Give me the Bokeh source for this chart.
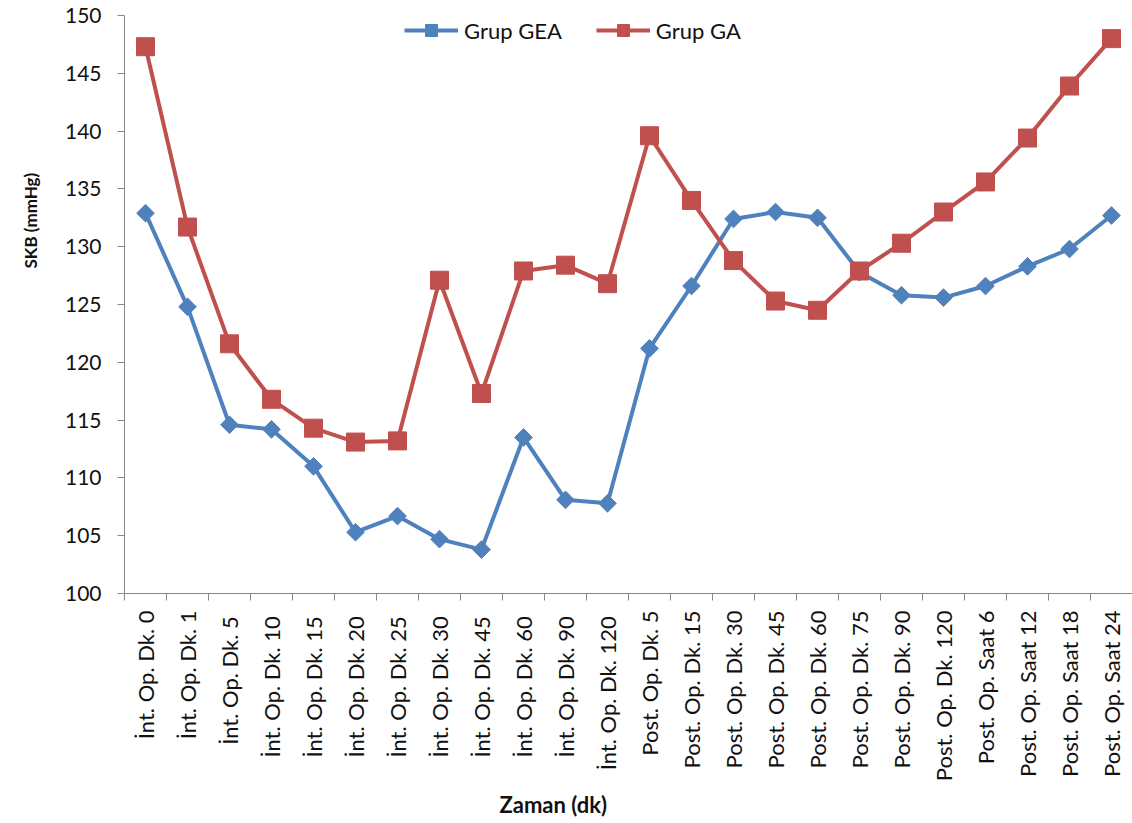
import math

from bokeh.embed import file_html
from bokeh.models import FixedTicker, Legend, LegendItem, Title
from bokeh.plotting import figure
from bokeh.resources import INLINE

# Time points (intra-operative minutes, post-operative minutes / hours)
time_labels = [
    "İnt. Op. Dk. 0", "İnt. Op. Dk. 1", "İnt. Op. Dk.  5", "İnt. Op. Dk.  10",
    "İnt. Op. Dk.  15", "İnt. Op. Dk.  20", "İnt. Op. Dk.  25", "İnt. Op. Dk.  30",
    "İnt. Op. Dk.  45", "İnt. Op. Dk.  60", "İnt. Op. Dk.  90", "İnt. Op. Dk.  120",
    "Post. Op. Dk. 5", "Post. Op. Dk. 15", "Post. Op. Dk. 30", "Post. Op. Dk. 45",
    "Post. Op. Dk. 60", "Post. Op. Dk. 75", "Post. Op. Dk. 90", "Post. Op. Dk. 120",
    "Post. Op. Saat 6", "Post. Op. Saat 12", "Post. Op. Saat 18", "Post. Op. Saat 24",
]

# Systolic blood pressure (mmHg) per group
grup_gea = [132.9, 124.8, 114.6, 114.2, 111.0, 105.3, 106.7, 104.7, 103.8, 113.5,
            108.1, 107.8, 121.2, 126.6, 132.4, 133.0, 132.5, 127.8, 125.8, 125.6,
            126.6, 128.3, 129.8, 132.7]
grup_ga = [147.3, 131.7, 121.6, 116.8, 114.3, 113.1, 113.2, 127.1, 117.3, 127.9,
           128.4, 126.8, 139.6, 134.0, 128.8, 125.3, 124.5, 127.9, 130.3, 133.0,
           135.6, 139.4, 143.9, 148.0]

y_ticks = [100, 105, 110, 115, 120, 125, 130, 135, 140, 145, 150]

BLUE = "#4F81BD"
RED = "#C0504D"
AXIS = "#868686"
TEXT = "#111111"
FONT = "Lato"

x = list(range(len(time_labels)))

p = figure(
    width=1132, height=823,
    x_range=(-0.5, len(time_labels) - 0.5), y_range=(100, 150),
    output_backend="svg", toolbar_location=None,
    min_border_left=122, min_border_right=0, min_border_top=15, min_border_bottom=230,
)
p.outline_line_color = None
p.grid.visible = False
p.background_fill_color = "white"
p.border_fill_color = "white"

# Series
gea_line = p.line(x, grup_gea, line_color=BLUE, line_width=4)
gea_pts = p.scatter(x, grup_gea, marker="square", angle=math.pi / 4, size=12.5,
                    fill_color=BLUE, line_color=BLUE)
ga_line = p.line(x, grup_ga, line_color=RED, line_width=4)
ga_pts = p.scatter(x, grup_ga, marker="square", size=18,
                   fill_color=RED, line_color=RED)

# X axis: category labels at integer positions, tick marks between categories
xa = p.xaxis[0]
xa.ticker = FixedTicker(ticks=x, minor_ticks=[i - 0.5 for i in range(len(x) + 1)])
xa.major_label_overrides = {i: lab for i, lab in enumerate(time_labels)}
xa.major_label_orientation = math.pi / 2
xa.major_tick_line_color = None
xa.minor_tick_in = 0
xa.minor_tick_out = 7
xa.minor_tick_line_color = AXIS
xa.axis_line_color = AXIS
xa.major_label_text_font = FONT
xa.major_label_text_font_size = "22px"
xa.major_label_text_color = TEXT
xa.major_label_standoff = 10

# Y axis
ya = p.yaxis[0]
ya.ticker = FixedTicker(ticks=y_ticks)
ya.minor_tick_line_color = None
ya.major_tick_in = 0
ya.major_tick_out = 7
ya.major_tick_line_color = AXIS
ya.axis_line_color = AXIS
ya.major_label_text_font = FONT
ya.major_label_text_font_size = "21px"
ya.major_label_text_color = TEXT
ya.major_label_standoff = 16

# Axis titles as side titles, offset along the frame
p.add_layout(Title(
    text="SKB (mmHg)", align="left", offset=325, vertical_align="top",
    standoff=38, text_font=FONT, text_font_style="bold", text_font_size="17px",
    text_color=TEXT,
), "left")
p.add_layout(Title(
    text="Zaman (dk)", align="left", offset=375, vertical_align="middle",
    standoff=10, text_font=FONT, text_font_style="bold", text_font_size="22px",
    text_color=TEXT,
), "below")

legend = Legend(
    items=[
        LegendItem(label="Grup GEA", renderers=[gea_line, gea_pts]),
        LegendItem(label="Grup GA", renderers=[ga_line, ga_pts]),
    ],
    orientation="horizontal",
    location=(280, 548),
    border_line_color=None,
    background_fill_alpha=0,
    label_text_font=FONT,
    label_text_font_size="22px",
    label_text_color=TEXT,
    glyph_width=54,
    glyph_height=30,
    label_height=30,
    label_standoff=6,
    spacing=34,
    padding=0,
    margin=0,
)
p.add_layout(legend, "center")

open("out.html", "w").write(file_html(p, INLINE))
